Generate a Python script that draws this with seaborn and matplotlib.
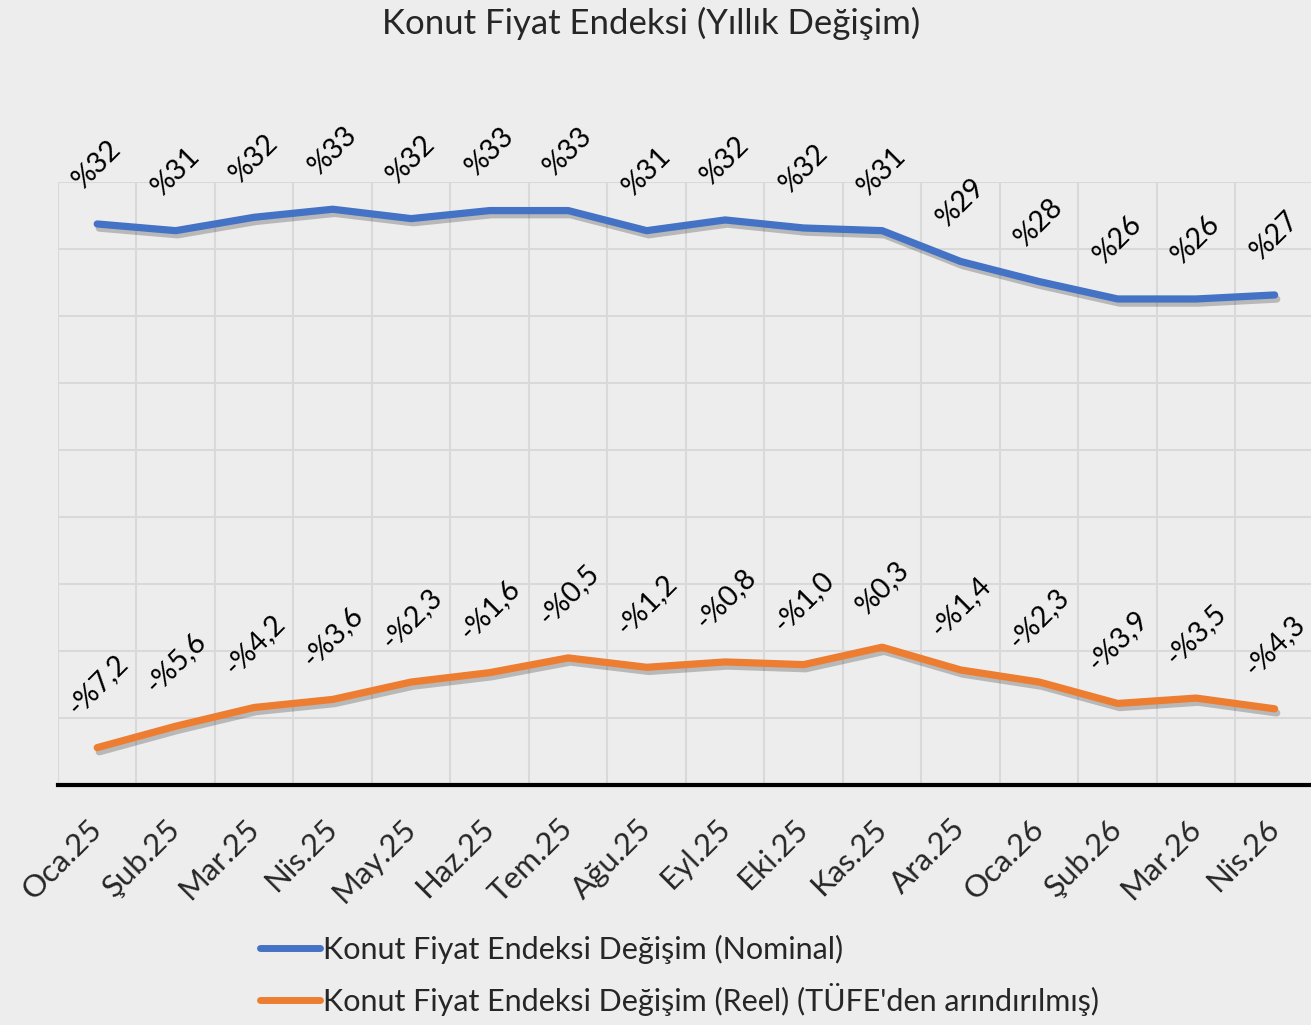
import numpy as np
import pandas as pd
import matplotlib
matplotlib.use('Agg')
import matplotlib.pyplot as plt
import matplotlib.patheffects as pe
import seaborn as sns

# chart data
months = ['Oca.25', 'Şub.25', 'Mar.25', 'Nis.25', 'May.25', 'Haz.25', 'Tem.25', 'Ağu.25',
          'Eyl.25', 'Eki.25', 'Kas.25', 'Ara.25', 'Oca.26', 'Şub.26', 'Mar.26', 'Nis.26']
nominal = [31.9, 31.4, 32.4, 33.0, 32.3, 32.9, 32.9, 31.4, 32.2, 31.6, 31.4, 29.1, 27.6, 26.3, 26.3, 26.6]
reel = [-7.2, -5.6, -4.2, -3.6, -2.3, -1.6, -0.5, -1.2, -0.8, -1.0, 0.3, -1.4, -2.3, -3.9, -3.5, -4.3]
series_names = ['Konut Fiyat Endeksi Değişim (Nominal)',
                "Konut Fiyat Endeksi Değişim (Reel) (TÜFE'den arındırılmış)"]
colors = ['#4472C4', '#ED7D31']

pos = np.arange(len(months))
df = pd.concat([
    pd.DataFrame({'pos': pos, 'value': nominal, 'series': series_names[0]}),
    pd.DataFrame({'pos': pos, 'value': reel, 'series': series_names[1]}),
])

sns.set_theme(style='white')
bg = '#EDEDED'
plt.rcParams['font.family'] = ['Lato', 'DejaVu Sans']

fig = plt.figure(figsize=(13.11, 10.25), dpi=100, facecolor=bg)
ax = fig.add_axes([0.0442, 0.234, 0.958, 0.588])
ax.set_facecolor(bg)

sns.lineplot(data=df, x='pos', y='value', hue='series', palette=colors,
             linewidth=5.2, sort=False, legend=False, ax=ax)
for line in ax.lines:
    line.set_solid_capstyle('round')
    line.set_path_effects([pe.SimpleLineShadow(offset=(1.5, -3), alpha=0.22, shadow_color='black'),
                           pe.Normal()])

# data labels
def fmt_nom(v):
    return '%' + f'{v:.0f}'

def fmt_reel(v):
    s = f'{abs(v):.1f}'.replace('.', ',')
    return ('-%' if v < 0 else '%') + s

for x, v in zip(pos, nominal):
    ax.annotate(fmt_nom(v), (x, v), xytext=(0, 30), textcoords='offset pixels',
                rotation=45, ha='center', va='bottom', fontsize=20.5, color='black')
for x, v in zip(pos, reel):
    ax.annotate(fmt_reel(v), (x, v), xytext=(0, 28), textcoords='offset pixels',
                rotation=45, ha='center', va='bottom', fontsize=20.5, color='black')

ax.set_xlim(-0.5, len(months) - 0.5)
ax.set_ylim(-10, 35)
ax.set_yticks(np.arange(-10, 36, 5))
ax.set_yticklabels([])
ax.tick_params(axis='y', length=0)
ax.set_xticks(pos)
ax.set_xticks(np.arange(-0.5, len(months), 1), minor=True)
ax.set_xticklabels(months, rotation=45, ha='right', va='center', rotation_mode='anchor', fontsize=22.5)
ax.tick_params(axis='x', which='both', length=0, pad=28)
ax.grid(True, which='minor', axis='x', color='#D9D9D9', linewidth=1.5)
ax.grid(True, which='major', axis='y', color='#D9D9D9', linewidth=1.5)
ax.set_axisbelow(True)
for side in ['left', 'right', 'top']:
    ax.spines[side].set_visible(False)
ax.spines['bottom'].set_color('black')
ax.spines['bottom'].set_linewidth(3)
ax.set_xlabel('')
ax.set_ylabel('')

fig.text(0.497, 0.977, 'Konut Fiyat Endeksi (Yıllık Değişim)', ha='center', va='center', fontsize=25)

handles = [plt.Line2D([], [], color=c, linewidth=5, solid_capstyle='round') for c in colors]
fig.legend(handles, series_names, loc='upper left', bbox_to_anchor=(0.189, 0.1),
           frameon=False, fontsize=22, handlelength=1.95, handletextpad=0.1, labelspacing=0.62,
           borderaxespad=0)

fig.savefig('out.png', dpi=100, facecolor=bg)
